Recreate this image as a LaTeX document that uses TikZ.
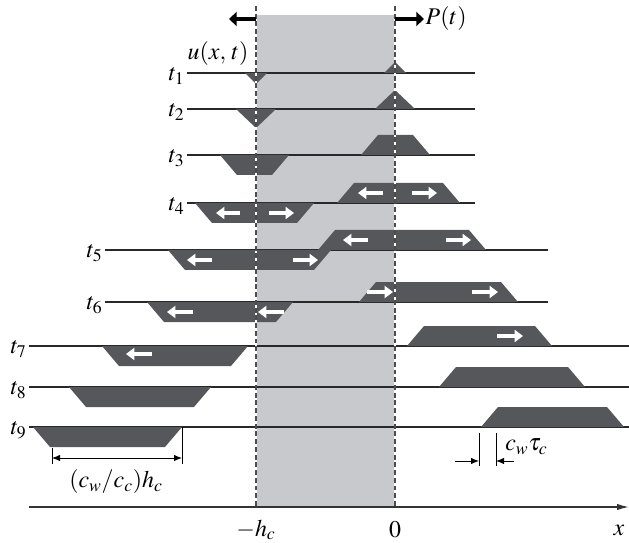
\documentclass[tikz,border=0pt]{standalone}
\usepackage{mathptmx}
\usetikzlibrary{arrows.meta}

\definecolor{bandgray}{RGB}{200,201,204}
\definecolor{wavegray}{RGB}{86,87,90}
\definecolor{linegray}{RGB}{40,40,40}

\begin{document}
\begin{tikzpicture}[
  x=0.025cm, y=-0.025cm,
  font=\fontsize{17}{20}\selectfont,
  row/.style={draw=linegray, line width=0.9pt},
  wave/.style={fill=wavegray},
  flow/.style={white, line width=2.6pt, -{Triangle[length=6pt, width=8.5pt]}},
  push/.style={black, line width=2.4pt, -{Triangle[length=5.5pt, width=10pt]}},
  bound/.style={draw=black!70, line width=1.3pt, dash pattern=on 3.5pt off 2pt},
  gap/.style={draw=white, line width=1.3pt},
  tick/.style={draw=black, line width=0.6pt},
  dim/.style={line width=0.6pt, -{Latex[length=2mm, width=1.6mm]}},
  tlabel/.style={anchor=east, inner sep=1pt}
]
\useasboundingbox (0,0) rectangle (629,543);

% =========================
% Gray layer between -h_c and 0
% =========================
\fill[bandgray] (256,15) rectangle (395,507);

% =========================
% Time rows
% =========================
\foreach \n/\y/\xa/\xb in {1/73/187/475, 2/109/187/475, 3/155/187/475,
    4/203/187/475, 5/250/105/548, 6/302/105/548,
    7/346/29/629, 8/387/29/629, 9/427/29/629} {
  \draw[row] (\xa,\y) -- (\xb,\y);
  \node[tlabel] (t\n) at (\xa-1,\y+3) {$t_{\n}$};
}

% =========================
% Waves
% =========================
% first two times: triangles
\fill[wave] (245,73) -- (267,73) -- (256,84) -- cycle;
\fill[wave] (384,73) -- (406,73) -- (395,62) -- cycle;
\fill[wave] (236,109) -- (276,109) -- (256,128) -- cycle;
\fill[wave] (375,109) -- (415,109) -- (395,90) -- cycle;

% left-going waves (below the row)
\foreach \y/\a/\b in {155/220/289, 203/195/314, 250/168/331, 302/147/293,
    346/102/248, 387/69/211, 427/33/182}
  \fill[wave] (\a,\y) -- (\b,\y) -- (\b-17,\y+20) -- (\a+17,\y+20) -- cycle;

% right-going waves (above the row)
\foreach \y/\a/\b in {155/361/430, 203/337/460, 250/318/486, 302/359/518,
    346/407/552, 387/439/585, 427/481/624}
  \fill[wave] (\a,\y) -- (\a+17,\y-20) -- (\b-17,\y-20) -- (\b,\y) -- cycle;

% directions inside the waves
\draw[flow] (240,213) -- (216,213);
\draw[flow] (269,213) -- (294,213);
\draw[flow] (383,193) -- (358,193);
\draw[flow] (412,193) -- (437,193);
\draw[flow] (212,260) -- (187,260);
\draw[flow] (293,260) -- (318,260);
\draw[flow] (368,240) -- (343,240);
\draw[flow] (446,240) -- (471,240);
\draw[flow] (193,312) -- (167,312);
\draw[flow] (284,312) -- (258,312);
\draw[flow] (367,292) -- (393,292);
\draw[flow] (472,292) -- (498,292);
\draw[flow] (152,354) -- (126,354);
\draw[flow] (497,336) -- (523,336);

% =========================
% Layer boundaries
% =========================
\coordinate (hctop) at (256,6);
\coordinate (hc) at (256,507);
\coordinate (zerotop) at (395,6);
\coordinate (zero) at (395,507);
\draw[gap] (hctop) -- (hc);
\draw[gap] (zerotop) -- (zero);
\draw[bound] (hctop) -- (hc);
\draw[bound] (zerotop) -- (zero);

\coordinate (lpushs) at (256,19);
\coordinate (lpush) at (229,19);
\coordinate (rpushs) at (395,19);
\coordinate (rpush) at (424,19);
\draw[push] (lpushs) -- (lpush);
\draw[push] (rpushs) -- (rpush);
\node[anchor=west, inner sep=1pt] (load) at (rpush) {$P(t)$};
\node (field) at (218,54) {$u(x,\,t)$};

% =========================
% Axis
% =========================
\coordinate (xstart) at (29,507);
\coordinate (xend) at (629,507);
\draw[line width=1.1pt, draw=black!80, -{Latex[length=3mm, width=1.6mm]}] (xstart) -- (xend);
\node (lhc) at (256,530) {$-h_c$};
\node (lzero) at (395,530) {$0$};
\node (lx) at (619,530) {$x$};

% =========================
% Dimensions
% =========================
\coordinate (wl) at (52,458);
\coordinate (wr) at (182,458);
\draw[tick] (52,448) -- (52,464);
\draw[tick] (182,427) -- (182,464);
\draw[line width=0.6pt, {Latex[length=2mm, width=1.6mm]}-{Latex[length=2mm, width=1.6mm]}] (wl) -- (wr);
\node (width) at (116,482) {$(c_w/c_c)h_c$};

\coordinate (gl) at (479,461);
\coordinate (gr) at (496,461);
\coordinate (glout) at (455,461);
\coordinate (grout) at (514,461);
\draw[tick] (479,433) -- (479,466);
\draw[tick] (496,433) -- (496,466);
\draw[dim] (glout) -- (gl);
\draw[dim] (grout) -- (gr);
\node[anchor=west, inner sep=0pt] (delay) at (505,447) {$c_w\tau_c$};

\end{tikzpicture}
\end{document}
